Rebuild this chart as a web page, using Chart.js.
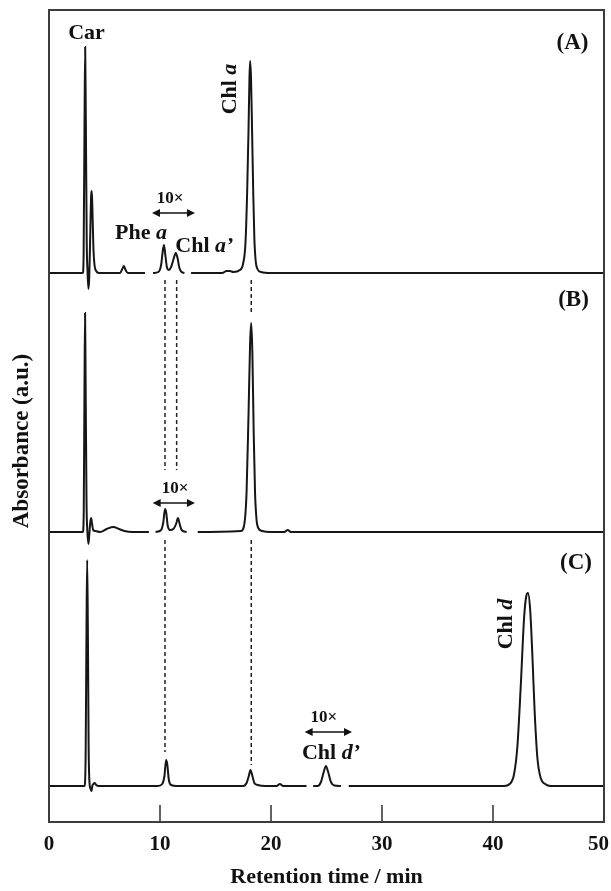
<!DOCTYPE html>
<html>
<head>
<meta charset="utf-8">
<script src="https://cdn.jsdelivr.net/npm/chart.js@4.4.1/dist/chart.umd.min.js"></script>
<style>
  html, body { margin: 0; padding: 0; background: #fff; }
  canvas { display: block; }
</style>
</head>
<body>
<canvas id="chart" width="611" height="891"></canvas>
<script>
// retention time ticks (min)
const xTicks = [0, 10, 20, 30, 40, 50];

// (A) trace: retention time / absorbance above its own baseline (null = break in trace)
const timeA = [0, 3.05, 3.12, 3.2, 3.26, 3.32, 3.4, 3.47, 3.55, 3.62, 3.7, 3.8, 3.86, 3.92, 4.0, 4.1, 4.25, 4.5,
  6.4, 6.6, 6.75, 6.9, 7.1, 8.65, 9.0, 9.37, 9.85, 10.1, 10.25, 10.36, 10.48, 10.62, 10.8, 11.0, 11.22, 11.42,
  11.58, 11.75, 11.95, 12.2, 12.5, 12.8, 15.6, 16.0, 16.3, 16.6, 17.2, 17.5, 17.7, 17.85, 17.97, 18.06, 18.12,
  18.2, 18.3, 18.4, 18.5, 18.62, 18.78, 19.1, 20, 50];
const absA = [0, 0, 20, 150, 226, 150, 30, 2, -16, -6, 30, 78, 82, 60, 25, 8, 2, 0,
  0, 4, 7, 3, 0, 0, null, 0, 1, 8, 22, 28, 18, 6, 3, 6, 14, 20,
  15, 5, 1, 0, null, 0, 0, 2, 2, 1, 3, 10, 30, 80, 140, 195, 212,
  195, 140, 80, 35, 12, 4, 1, 0, 0];

// (B) trace
const timeB = [0, 3.05, 3.13, 3.2, 3.25, 3.3, 3.38, 3.45, 3.55, 3.62, 3.72, 3.8, 3.88, 3.98, 4.2, 4.6, 5.2, 5.8,
  6.3, 6.8, 7.5, 9.0, 9.3, 9.6, 10.1, 10.3, 10.45, 10.55, 10.7, 10.9, 11.2, 11.45, 11.62, 11.75, 11.95, 12.4,
  12.9, 13.4, 17.3, 17.6, 17.8, 17.98, 18.12, 18.22, 18.32, 18.44, 18.56, 18.7, 18.85, 19.2, 20, 21.2, 21.5,
  21.8, 50];
const absB = [0, 0, 20, 150, 219, 150, 30, 2, -12, -4, 10, 14, 8, 2, 1, 0, 3, 5,
  3, 1, 0, 0, null, 0, 2, 10, 23, 20, 6, 2, 3, 8, 14, 9, 2, 0,
  null, 0, 1, 8, 40, 120, 190, 209, 180, 100, 40, 12, 4, 1, 0, 0, 2,
  0, 0];

// (C) trace
const timeC = [0, 3.2, 3.3, 3.38, 3.44, 3.5, 3.57, 3.65, 3.75, 3.83, 3.9, 4.0, 4.12, 4.25, 4.5, 9.8, 10.2, 10.4,
  10.55, 10.65, 10.8, 11.0, 11.5, 17.5, 17.8, 18.0, 18.15, 18.3, 18.5, 18.8, 19.5, 20.5, 20.8, 21.1, 23.2, 23.5,
  23.8, 24.2, 24.5, 24.75, 24.95, 25.15, 25.4, 25.7, 26.3, 26.6, 27.0, 41.0, 41.5, 41.9, 42.2, 42.5, 42.8, 43.0,
  43.15, 43.35, 43.55, 43.75, 44.0, 44.3, 44.7, 45.2, 50];
const absC = [0, 0, 30, 160, 226, 160, 40, 3, -3, -5, 0, 2, 3, 1, 0, 0, 2, 10,
  26, 22, 6, 1, 0, 0, 3, 10, 16, 11, 3, 1, 0, 0, 2, 0, 0, null,
  0, 0, 4, 14, 20, 14, 4, 0.5, 0, null, 0, 0, 2, 12, 40, 100, 168, 190,
  193, 176, 130, 75, 28, 8, 2, 0, 0];

// vertical offset of each chromatogram on the shared absorbance axis
const baseA = 549, baseB = 290, baseC = 36;

// dashed guide lines: retention time and [start, end] pairs on the shared axis
const guideTimes = [10.45, 11.5, 18.22];
const guideSegments = [[542, 352, 282, 70], [542, 352], [542, 509, 282, 57]];

// annotations
const peakLabels = [
  { parts: [['Car', 0]], t: 3.38, y: 789 },
  { parts: [['Chl ', 0], ['a', 1]], t: 16.3, y: 733, rot: true },
  { parts: [['Phe ', 0], ['a', 1]], t: 8.29, y: 589 },
  { parts: [['Chl ', 0], ['a\u2019', 1]], t: 14.0, y: 576 },
  { parts: [['Chl ', 0], ['d\u2019', 1]], t: 25.4, y: 69 },
  { parts: [['Chl ', 0], ['d', 1]], t: 41.17, y: 198, rot: true }
];
const panelLabels = [['(A)', 47.16, 779], ['(B)', 47.25, 522], ['(C)', 47.48, 259]];
const foldLabels = [[10.9, 623], [11.35, 333], [24.77, 104.5]];
const foldArrows = [[9.28, 13.15, 609], [9.34, 13.15, 319], [23.03, 27.3, 90]];

const SERIF = '"Liberation Serif", "Times New Roman", serif';

function toPoints(times, values, base) {
  return times.map((t, i) => ({ x: t, y: values[i] === null ? null : base + values[i] }));
}

function guidePoints(t, seg) {
  const pts = [];
  for (let i = 0; i < seg.length; i += 2) {
    if (i > 0) pts.push({ x: t, y: null });
    pts.push({ x: t, y: seg[i] }, { x: t, y: seg[i + 1] });
  }
  return pts;
}

function drawRich(ctx, parts, cx, cy, size, rot) {
  ctx.save();
  ctx.translate(cx, cy);
  if (rot) ctx.rotate(-Math.PI / 2);
  const fonts = parts.map(p => (p[1] ? 'italic ' : '') + 'bold ' + size + 'px ' + SERIF);
  let total = 0;
  parts.forEach((p, i) => { ctx.font = fonts[i]; total += ctx.measureText(p[0]).width; });
  let xx = -total / 2;
  ctx.textAlign = 'left';
  ctx.textBaseline = 'middle';
  parts.forEach((p, i) => {
    ctx.font = fonts[i];
    ctx.fillText(p[0], xx, 0);
    xx += ctx.measureText(p[0]).width;
  });
  ctx.restore();
}

const decor = {
  id: 'decor',
  afterDatasetsDraw(chart) {
    const { ctx, chartArea: a, scales: { x, y } } = chart;
    ctx.save();
    ctx.fillStyle = '#111';

    // frame
    ctx.strokeStyle = '#3c3c3c';
    ctx.lineWidth = 2;
    ctx.strokeRect(a.left, a.top, a.right - a.left, a.bottom - a.top);

    // inward tick marks and labels
    ctx.lineWidth = 1.6;
    ctx.beginPath();
    xTicks.forEach(v => {
      if (v > x.min && v < x.max) {
        const px = x.getPixelForValue(v);
        ctx.moveTo(px, a.bottom);
        ctx.lineTo(px, a.bottom - 17);
      }
    });
    ctx.stroke();
    ctx.font = 'bold 21px ' + SERIF;
    ctx.textAlign = 'center';
    ctx.textBaseline = 'middle';
    xTicks.forEach(v => {
      const s = String(v);
      const w = ctx.measureText(s).width;
      const px = Math.min(x.getPixelForValue(v), chart.width - 2 - w / 2);
      ctx.fillText(s, px, a.bottom + 23);
    });

    // y axis title
    drawRich(ctx, [['Absorbance (a.u.)', 0]], 22, (a.top + a.bottom) / 2 + 25, 23, true);

    // 10x arrows
    ctx.strokeStyle = '#111';
    ctx.lineWidth = 1.5;
    foldArrows.forEach(([t0, t1, yv]) => {
      const x0 = x.getPixelForValue(t0), x1 = x.getPixelForValue(t1), py = y.getPixelForValue(yv);
      ctx.beginPath();
      ctx.moveTo(x0 + 4, py);
      ctx.lineTo(x1 - 4, py);
      ctx.stroke();
      ctx.beginPath();
      ctx.moveTo(x0, py); ctx.lineTo(x0 + 8, py - 4); ctx.lineTo(x0 + 8, py + 4); ctx.closePath();
      ctx.moveTo(x1, py); ctx.lineTo(x1 - 8, py - 4); ctx.lineTo(x1 - 8, py + 4); ctx.closePath();
      ctx.fill();
    });
    foldLabels.forEach(([t, yv]) => {
      drawRich(ctx, [['10\u00d7', 0]], x.getPixelForValue(t), y.getPixelForValue(yv), 17, false);
    });

    // peak and panel labels
    peakLabels.forEach(l => {
      drawRich(ctx, l.parts, x.getPixelForValue(l.t), y.getPixelForValue(l.y), 22, l.rot);
    });
    panelLabels.forEach(([s, t, yv]) => {
      drawRich(ctx, [[s, 0]], x.getPixelForValue(t), y.getPixelForValue(yv), 23, false);
    });
    ctx.restore();
  }
};

const traceStyle = {
  borderColor: '#161616',
  borderWidth: 2,
  pointRadius: 0,
  fill: false,
  spanGaps: false,
  cubicInterpolationMode: 'monotone'
};
const guideStyle = {
  borderColor: '#222',
  borderWidth: 1.5,
  borderDash: [4, 3],
  pointRadius: 0,
  fill: false,
  spanGaps: false,
  tension: 0
};

new Chart(document.getElementById('chart'), {
  type: 'line',
  data: {
    datasets: [
      ...guideTimes.map((t, i) => ({ label: 'guide' + i, data: guidePoints(t, guideSegments[i]), ...guideStyle })),
      { label: 'A', data: toPoints(timeA, absA, baseA), ...traceStyle },
      { label: 'B', data: toPoints(timeB, absB, baseB), ...traceStyle },
      { label: 'C', data: toPoints(timeC, absC, baseC), ...traceStyle }
    ]
  },
  options: {
    responsive: false,
    animation: false,
    layout: { padding: { top: 10, right: 7, left: 0, bottom: 0 } },
    plugins: { legend: { display: false }, tooltip: { enabled: false } },
    scales: {
      x: {
        type: 'linear', min: 0, max: 50,
        ticks: { display: false },
        grid: { display: false },
        border: { display: false },
        title: {
          display: true, text: 'Retention time / min', color: '#111',
          font: { family: SERIF, size: 22, weight: 'bold' },
          padding: { top: 0, bottom: 0 }
        },
        afterFit(s) { s.height = 69; s.paddingLeft = 0; s.paddingRight = 0; }
      },
      y: {
        type: 'linear', min: 0, max: 812,
        ticks: { display: false },
        grid: { display: false },
        border: { display: false },
        afterFit(s) { s.width = 49; }
      }
    }
  },
  plugins: [decor]
});
</script>
</body>
</html>
